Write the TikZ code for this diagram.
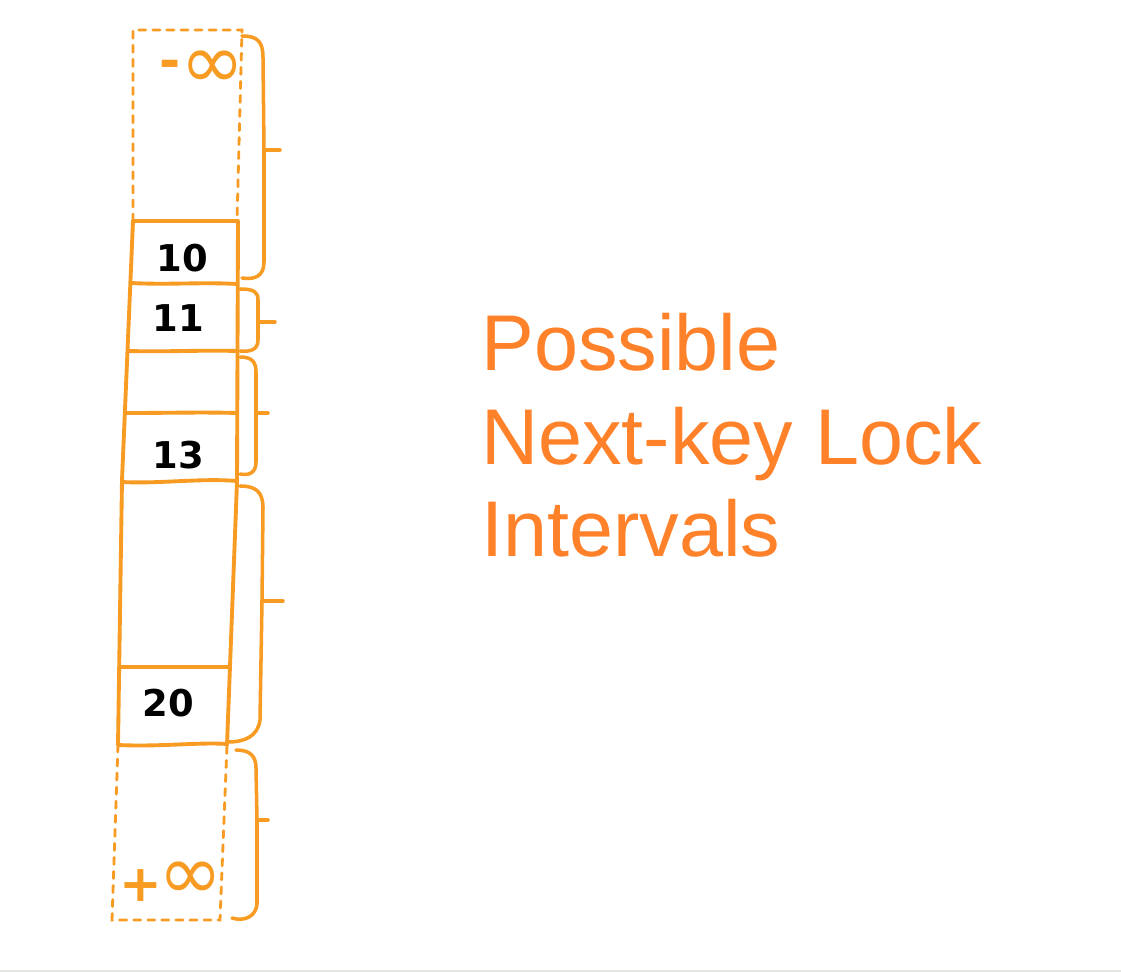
\documentclass[tikz,border=0pt]{standalone}
\usepackage{fontspec}
\setmainfont{Liberation Sans}
\newfontfamily\digitfont{DejaVu Sans}
\definecolor{sk}{RGB}{247,155,35}
\definecolor{txt}{RGB}{255,130,42}
\definecolor{rule}{RGB}{228,232,228}
\begin{document}
\begin{tikzpicture}[x=0.02cm,y=-0.02cm,
  solidline/.style={draw=sk,line width=2.2pt,line cap=round,line join=round},
  dashline/.style={draw=sk,line width=1.6pt,dash pattern=on 4pt off 4pt,line cap=round},
  bracestyle/.style={draw=sk,line width=2pt,line cap=round,line join=round},
  keylabel/.style={font=\digitfont\bfseries\fontsize{21}{21}\selectfont,text=black,inner sep=0pt},
  inflabel/.style={text=sk,inner sep=0pt,font=\digitfont\fontsize{44}{44}\selectfont},
  signlabel/.style={text=sk,inner sep=0pt,font=\digitfont\bfseries\fontsize{29}{29}\selectfont},
  title/.style={text=txt,inner sep=0pt,anchor=base west,font=\fontsize{45}{52}\selectfont}]
\useasboundingbox (0,0) rectangle (1121,972);
\fill[white] (0,0) rectangle (1121,972);
\draw[rule,line width=0.8pt] (0,971) -- (1121,971);

% top dashed box (-infinity)
\draw[dashline] (133,221) -- (133,30) -- (242,30) -- (237,221);
% bottom dashed box (+infinity)
\draw[dashline] (118,745) -- (112,920) -- (220,920) -- (227,745);

% solid column
\draw[solidline] (133,221) -- (122,480) -- (118,745);
\draw[solidline] (238,221) -- (237,482) -- (227,745);
\draw[solidline] (133,221) -- (238,221);
\draw[solidline] (131,283) .. controls (170,285) and (200,282) .. (237,284);
\draw[solidline] (128,351) .. controls (170,352) and (200,350) .. (237,351);
\draw[solidline] (126,413) .. controls (170,413) and (200,412) .. (237,413);
\draw[solidline] (122,482) .. controls (160,484) and (200,478) .. (237,481);
\draw[solidline] (120,667) -- (230,667);
\draw[solidline] (118,745) .. controls (160,747) and (200,742) .. (227,744);

% labels
\node[signlabel] (minus) at (170,69) {-};
\node[inflabel] (minf) at (213,70) {∞};
\node[keylabel] (k10) at (182,258) {10};
\node[keylabel] (k11) at (178,318) {11};
\node[keylabel] (k13) at (178,455) {13};
\node[keylabel] (k20) at (168,703) {20};
\node[signlabel] (plus) at (141,886) {+};
\node[inflabel] (pinf) at (191,881) {∞};

% braces
\draw[bracestyle] (242,36) .. controls (258,36) and (263,42) .. (263,58) -- (264,150) -- (264,262) .. controls (264,276) and (255,280) .. (242,278);
\draw[bracestyle] (264,150) -- (280,150);
\draw[bracestyle] (240,289) .. controls (254,289) and (258,292) .. (258,300) -- (258,340) .. controls (258,350) and (250,352) .. (240,351);
\draw[bracestyle] (258,322) -- (275,322);
\draw[bracestyle] (240,357) .. controls (252,357) and (256,362) .. (256,372) -- (256,462) .. controls (256,472) and (250,476) .. (240,474);
\draw[bracestyle] (256,413) -- (268,413);
\draw[bracestyle] (240,486) .. controls (256,486) and (263,492) .. (263,508) -- (262,601) -- (260,720) .. controls (258,736) and (245,742) .. (228,742);
\draw[bracestyle] (262,601) -- (283,601);
\draw[bracestyle] (236,750) .. controls (250,750) and (256,756) .. (256,768) -- (257,820) -- (257,904) .. controls (256,916) and (245,922) .. (232,918);
\draw[bracestyle] (257,820) -- (268,820);

% title
\node[title] (t1) at (481,371) {Possible};
\node[title] (t2) at (481,464) {Next-key Lock};
\node[title] (t3) at (481,556) {Intervals};
\end{tikzpicture}
\end{document}
